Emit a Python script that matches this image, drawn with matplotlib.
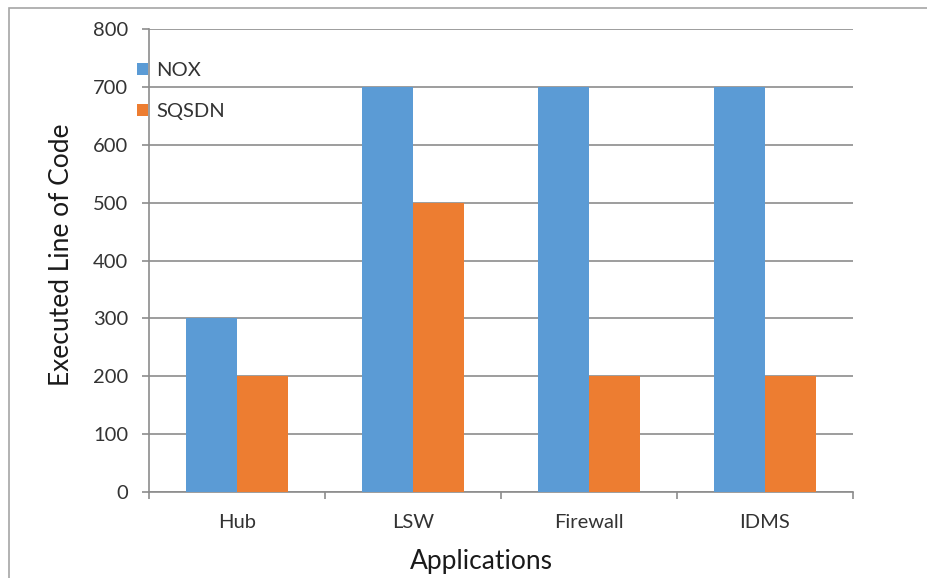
import matplotlib
matplotlib.use('Agg')
import matplotlib.pyplot as plt
import matplotlib.patches as mpatches
import numpy as np

plt.rcParams['font.family'] = ['Lato', 'DejaVu Sans']

APPS = ['Hub', 'LSW', 'Firewall', 'IDMS']
NOX = [300, 700, 700, 700]
SQSDN = [200, 500, 200, 200]
Y_TICKS = [0, 100, 200, 300, 400, 500, 600, 700, 800]

BLUE = '#5b9bd5'
ORANGE = '#ed7d31'
GRID = '#8c8c8c'
TEXT = '#333333'

W, H = 928, 578
fig = plt.figure(figsize=(W / 100, H / 100), dpi=100)

# plot area placed in pixel terms
left, right, top, bottom = 149, 853, 29, 492
ax = fig.add_axes([left / W, 1 - bottom / H, (right - left) / W, (bottom - top) / H])

x = np.arange(len(APPS))
bw = 0.29
b1 = ax.bar(x - bw / 2, NOX, bw, color=BLUE, label='NOX', zorder=3)
b2 = ax.bar(x + bw / 2, SQSDN, bw, color=ORANGE, label='SQSDN', zorder=3)

ax.set_xlim(-0.5, len(APPS) - 0.5)
ax.set_ylim(0, 800)
ax.set_yticks(Y_TICKS)
ax.yaxis.grid(True, color=GRID, linewidth=1.2, zorder=0)
ax.set_axisbelow(True)

for side in ['top', 'right']:
    ax.spines[side].set_visible(False)
for side in ['left', 'bottom']:
    ax.spines[side].set_color(GRID)
    ax.spines[side].set_linewidth(1.2)

ax.set_xticks(x)
ax.set_xticklabels(APPS)
ax.set_xticks(np.arange(-0.5, len(APPS)), minor=True)
ax.tick_params(axis='x', which='major', length=0, pad=16, labelsize=14.5, labelcolor=TEXT)
ax.tick_params(axis='x', which='minor', length=5, width=1.2, color=GRID, direction='out')
ax.tick_params(axis='y', length=5, width=1.2, color=GRID, pad=10, labelsize=14.5, labelcolor=TEXT)

fig.text(62 / W, 1 - 255 / H, 'Executed Line of Code', rotation=90,
         ha='center', va='center', fontsize=19, color='#1a1a1a')
fig.text(481 / W, 1 - 562 / H, 'Applications', ha='center', va='center',
         fontsize=19, color='#1a1a1a')

leg = ax.legend(handles=[b1, b2], loc='upper left',
                bbox_to_anchor=(137 / W, 1 - 62 / H), bbox_transform=fig.transFigure,
                frameon=False, fontsize=14.5, handlelength=0.55, handleheight=0.55,
                handletextpad=0.4, labelspacing=1.2, borderpad=0, borderaxespad=0)
for t in leg.get_texts():
    t.set_color(TEXT)

# outer frame of the chart area
fig.add_artist(mpatches.Rectangle((9.5 / W, -0.1), 1.2, 1 - 8.5 / H + 0.1,
                                  transform=fig.transFigure, fill=False,
                                  edgecolor='#a6a6a6', linewidth=1.2))

fig.savefig('out.png', dpi=100)
